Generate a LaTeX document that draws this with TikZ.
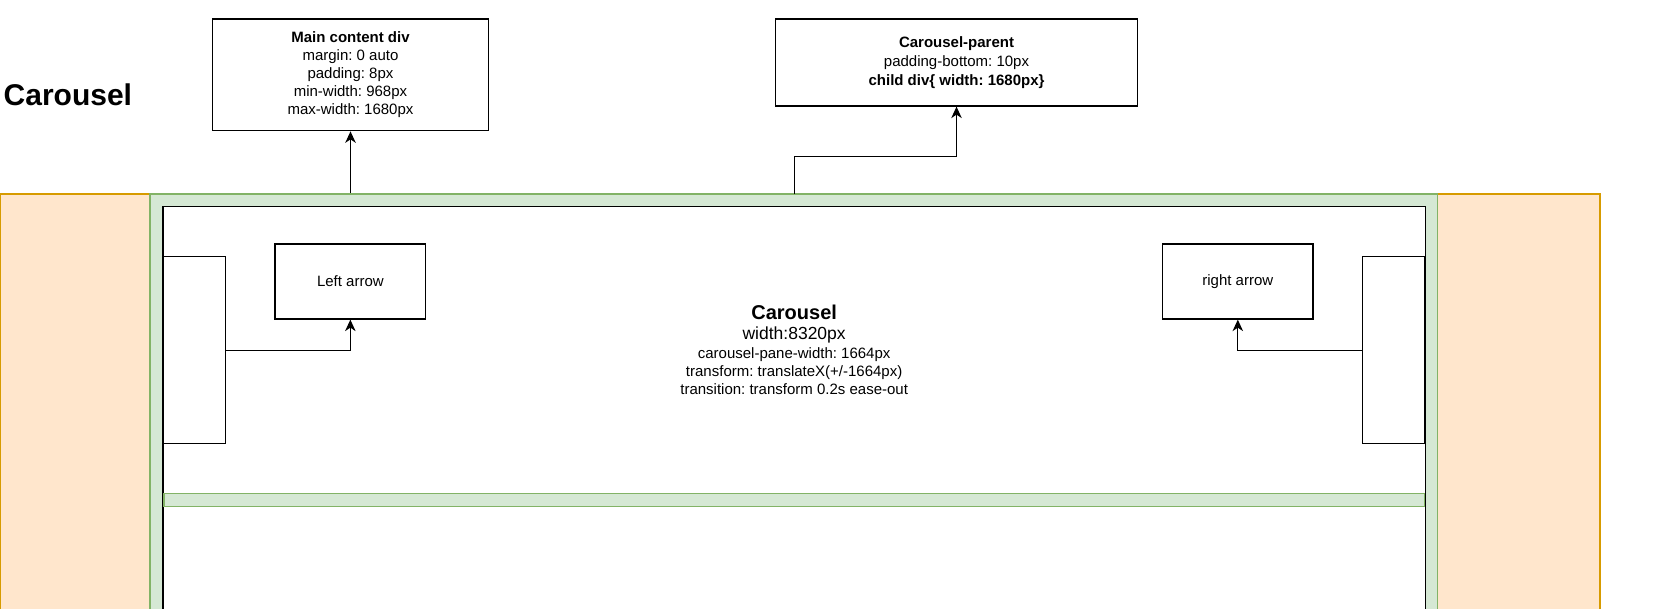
\documentclass[tikz,border=0pt]{standalone}
\usepackage{fontspec}
\setmainfont{Liberation Sans}
\usetikzlibrary{arrows.meta}
\definecolor{padfill}{HTML}{FFE6CC}
\definecolor{paddraw}{HTML}{D79B00}
\definecolor{framefill}{HTML}{D5E8D4}
\definecolor{framedraw}{HTML}{82B366}
\frenchspacing
\begin{document}
\begin{tikzpicture}[
		x=1pt, y=-1pt,
		font=\fontsize{15}{18}\selectfont,
		box/.style={draw, line width=1.25pt, fill=white, inner sep=0pt, align=center},
		pad/.style={draw=paddraw, fill=padfill, line width=1.25pt, inner sep=0pt},
		frame/.style={draw=framedraw, fill=framefill, line width=1.25pt, inner sep=0pt},
		arr/.style={line width=1.25pt, -{Stealth[length=11.5pt,width=10.5pt,inset=3.5pt]}}
	]
	\useasboundingbox (0,0) rectangle (1677,608);
	\node[pad, minimum width=150pt, minimum height=421pt] (padleft) at (75,404.5) {};
	\node[pad, minimum width=162.5pt, minimum height=421pt] (padright) at (1518.75,404.5) {};
	\node[frame, minimum width=1287.5pt, minimum height=421pt] (parent) at (793.75,404.5) {};
	\node[box, minimum width=1262.3pt, minimum height=408.3pt] (track) at (794.15,410.85) {};
	\node[box, minimum width=1262.3pt, minimum height=286.6pt] (carousel) at (794.15,350) {%
		{\fontsize{20}{24}\selectfont\bfseries Carousel}\\[2pt]
		{\fontsize{17.5}{21}\selectfont width:8320px}\\[1pt]
		carousel-pane-width: 1664px\\
		transform: translateX(+/-1664px)\\
		transition: transform 0.2s ease-out};
	\node[frame, minimum width=1260.5pt, minimum height=13.4pt] (gap) at (794.15,500) {};
	\node[box, minimum width=62.7pt, minimum height=187pt] (lsmall) at (194.35,350.2) {};
	\node[box, minimum width=62.3pt, minimum height=187pt] (rsmall) at (1393.85,350.2) {};
	\node[box, minimum width=150.7pt, minimum height=75pt] (larrow) at (350.35,281.5) {Left arrow};
	\node[box, minimum width=150.4pt, minimum height=75pt] (rarrow) at (1237.8,281.5) {right arrow};
	\node[box, minimum width=275.6pt, minimum height=111.7pt] (main) at (350.5,74.85) {%
		\textbf{Main content div}\\
		margin: 0 auto\\
		padding: 8px\\
		min-width: 968px\\
		max-width: 1680px};
	\node[box, minimum width=362.4pt, minimum height=87pt] (cparent) at (956.5,62.5) {%
		\textbf{Carousel-parent}\\[1pt]
		padding-bottom: 10px\\[1pt]
		\textbf{child div\{ width: 1680px\}}};
	\node[anchor=base west, inner sep=0pt, font=\fontsize{30}{36}\selectfont\bfseries] (title) at (3.5,105) {Carousel};
	\coordinate (cpfoot) at (794.3,194);
	\coordinate (cpbend) at (794.3,156.7);
	\draw[arr] (main |- parent.north) -- (main.south);
	\draw[arr] (cpfoot) -- (cpbend) -| (cparent.south);
	\draw[arr] (lsmall.east) -| (larrow.south);
	\draw[arr] (rsmall.west) -| (rarrow.south);
\end{tikzpicture}
\end{document}
